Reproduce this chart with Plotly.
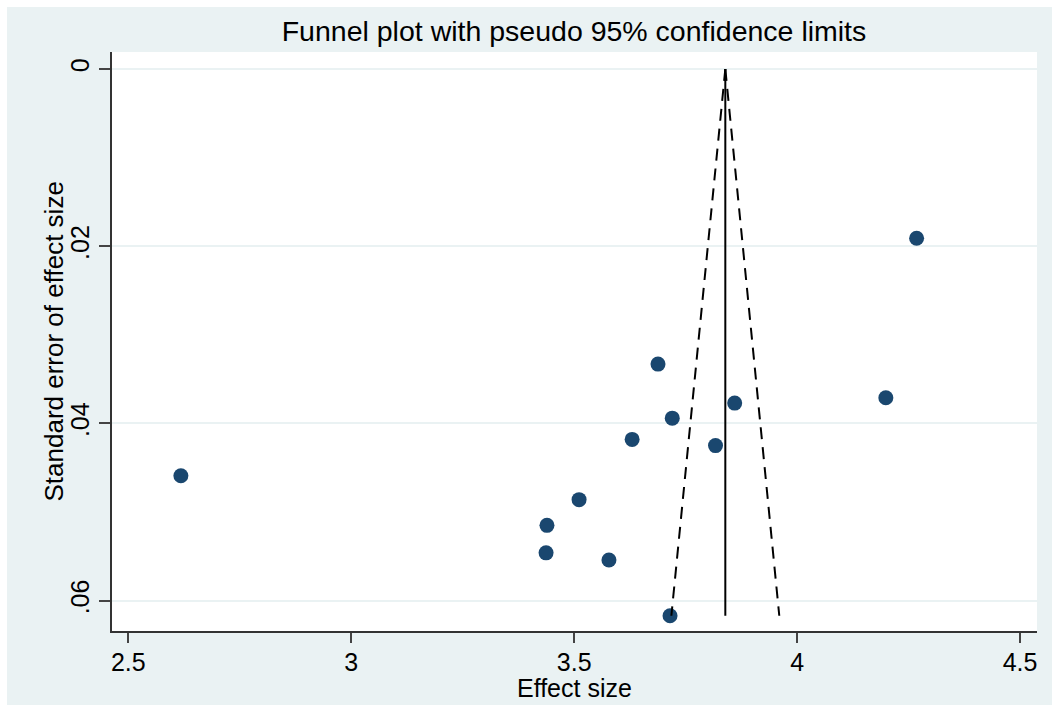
import plotly.graph_objects as go

# Study effect sizes and standard errors
effect_size = [4.268, 3.688, 4.199, 3.860, 3.720, 3.630, 3.817, 2.618, 3.511, 3.439, 3.437, 3.578, 3.715]
std_error = [0.0191, 0.0333, 0.0371, 0.0377, 0.0394, 0.0418, 0.0425, 0.0459, 0.0486, 0.0515, 0.0546, 0.0554, 0.0617]

# Pooled estimate line and pseudo 95% confidence limits
pooled_x = [3.839, 3.839]
pooled_se = [0.0, 0.0617]
lower_x = [3.839, 3.718]
upper_x = [3.839, 3.960]
limit_se = [0.0, 0.0617]

x_ticks = [2.5, 3, 3.5, 4, 4.5]
x_tick_labels = ["2.5", "3", "3.5", "4", "4.5"]
y_ticks = [0, 0.02, 0.04, 0.06]
y_tick_labels = ["0", ".02", ".04", ".06"]

FONT = "Liberation Sans, Arial, sans-serif"
BG = "#EAF2F3"
W, H = 1052, 705
ML, MR, MT, MB = 112, 15, 52, 74
PW, PH = W - ML - MR, H - MT - MB


def px_x(p):
    return (p - ML) / PW


def px_y(p):
    return (H - MB - p) / PH


fig = go.Figure()
fig.add_trace(go.Scatter(
    x=effect_size, y=std_error, mode="markers",
    marker=dict(size=15, color="#1A476F", line=dict(width=0)),
    showlegend=False, hoverinfo="x+y"))
fig.add_trace(go.Scatter(
    x=pooled_x, y=pooled_se, mode="lines",
    line=dict(color="black", width=2), showlegend=False))
fig.add_trace(go.Scatter(
    x=lower_x, y=limit_se, mode="lines",
    line=dict(color="black", width=2, dash="12px,8px"), showlegend=False))
fig.add_trace(go.Scatter(
    x=upper_x, y=limit_se, mode="lines",
    line=dict(color="black", width=2, dash="12px,8px"), showlegend=False))

fig.update_layout(
    width=W, height=H,
    margin=dict(l=ML, r=MR, t=MT, b=MB),
    paper_bgcolor=BG, plot_bgcolor="white",
    font=dict(family=FONT, size=25, color="black"),
    title=dict(text="Funnel plot with pseudo 95% confidence limits",
               x=px_x(574), xref="paper", xanchor="center",
               y=1 - 31 / H, yref="container", yanchor="middle",
               font=dict(family=FONT, size=28.5, color="black")),
    xaxis=dict(range=[2.4635, 4.538], tickvals=x_ticks, ticktext=x_tick_labels,
               showgrid=False, zeroline=False, showline=True, linecolor="#333333",
               linewidth=1.5, ticks="outside", ticklen=10, tickwidth=1.5,
               tickcolor="#444444", tickfont=dict(size=25), ticklabelstandoff=-2),
    yaxis=dict(range=[0.06342, -0.00192], tickvals=y_ticks, ticktext=y_tick_labels,
               showgrid=True, gridcolor=BG, gridwidth=1.5, zeroline=False,
               showline=True, linecolor="#333333", linewidth=1.5,
               ticks="outside", ticklen=11, tickwidth=1.5, tickcolor="#444444",
               tickangle=-90, tickfont=dict(size=25)),
    annotations=[
        dict(text="Effect size", x=0.5, y=px_y(704), xref="paper", yref="paper",
             xanchor="center", yanchor="bottom", showarrow=False,
             font=dict(family=FONT, size=25, color="black")),
        dict(text="Standard error of effect size", x=px_x(53), y=0.5,
             xref="paper", yref="paper", xanchor="center", yanchor="middle",
             textangle=-90, showarrow=False,
             font=dict(family=FONT, size=26, color="black")),
    ],
    shapes=[
        dict(type="rect", xref="paper", yref="paper", x0=px_x(0), x1=px_x(7),
             y0=px_y(H), y1=px_y(0), fillcolor="white", line=dict(width=0),
             layer="above"),
        dict(type="rect", xref="paper", yref="paper", x0=px_x(0), x1=px_x(W),
             y0=px_y(7), y1=px_y(0), fillcolor="white", line=dict(width=0),
             layer="above"),
    ],
)

fig.write_html("out.html")
